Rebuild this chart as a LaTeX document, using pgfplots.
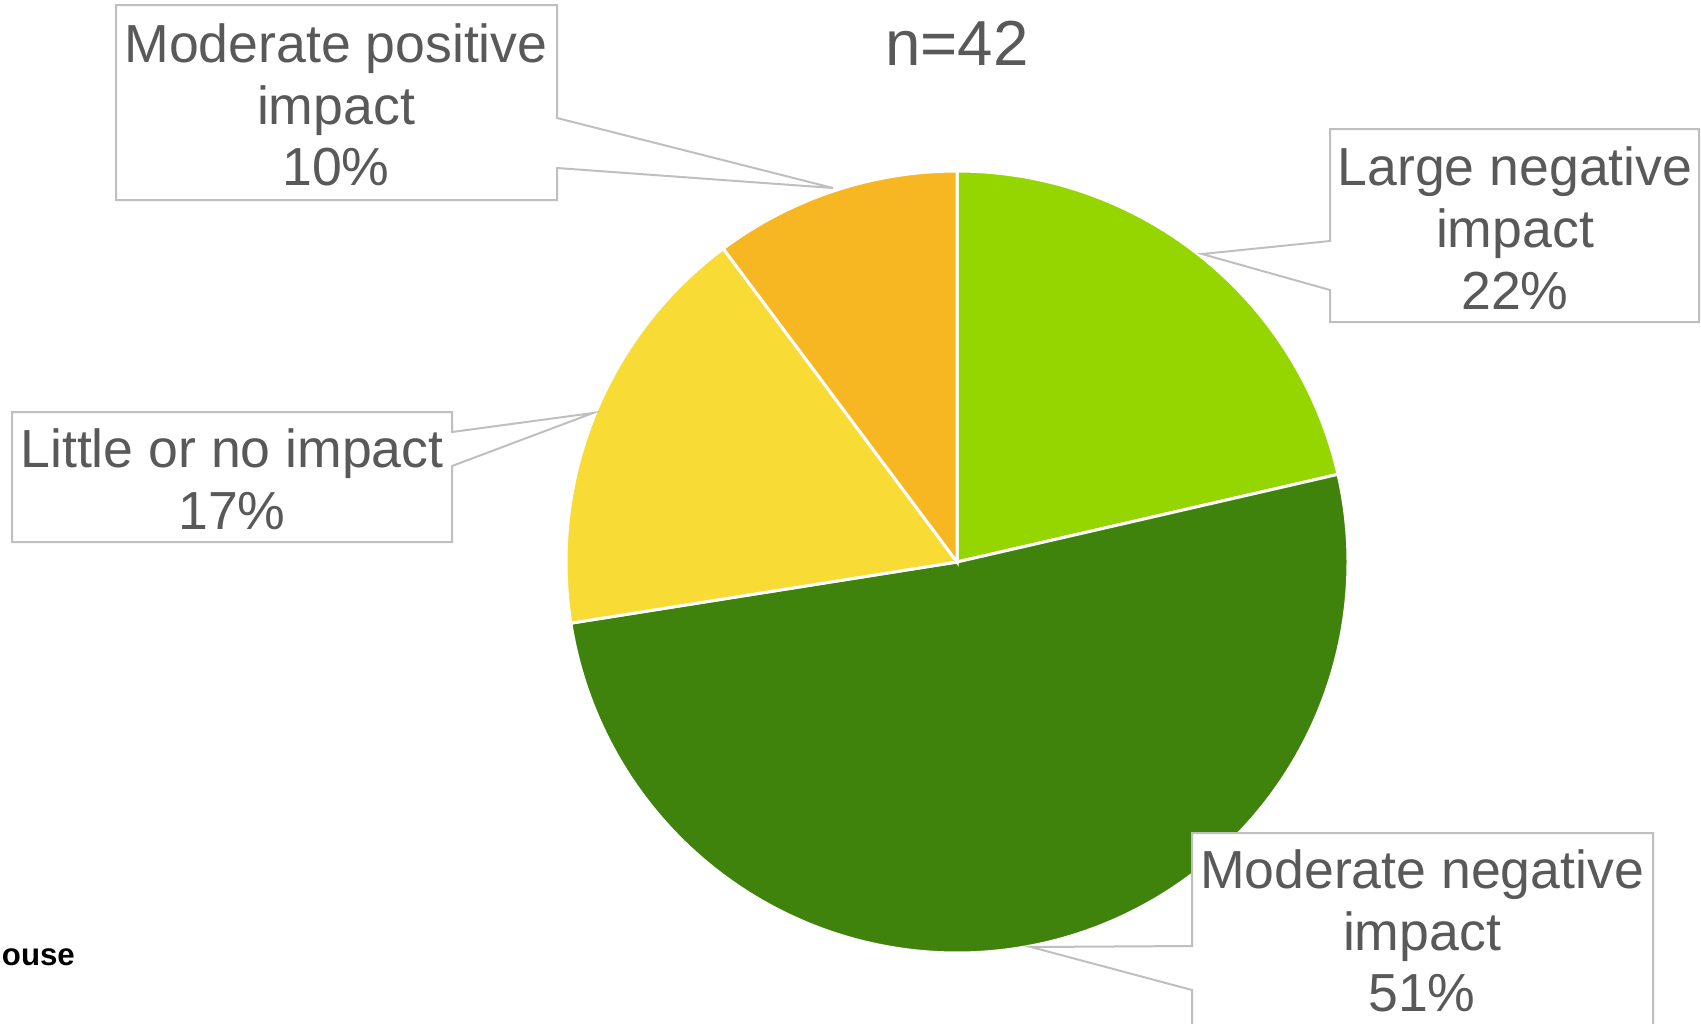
\documentclass[border=0pt]{standalone}
\usepackage{pgfplots}
\pgfplotsset{compat=1.18}
\usepackage{fontspec}
\setmainfont{Liberation Sans}
\definecolor{cLN}{HTML}{95D600}
\definecolor{cMN}{HTML}{3F830C}
\definecolor{cLI}{HTML}{F9DB35}
\definecolor{cMP}{HTML}{F7B723}
\definecolor{txt}{HTML}{595959}
\definecolor{bx}{HTML}{BFBFBF}
% slice shares (per cent), clockwise from 12 o'clock
\def\vA{21.4}% Large negative impact
\def\vB{51.1}% Moderate negative impact
\def\vC{17.3}% Little or no impact
\def\vD{10.2}% Moderate positive impact
\begin{document}%
\begin{tikzpicture}
\pgfmathsetmacro\aA{3.6*\vA}
\pgfmathsetmacro\aB{3.6*(\vA+\vB)}
\pgfmathsetmacro\aC{3.6*(\vA+\vB+\vC)}
\pgfmathsetmacro\aD{3.6*(\vA+\vB+\vC+\vD)}
\clip (0,0) rectangle (850.5pt,511.5pt);
\begin{axis}[
  at={(0,0)}, anchor=south west,
  scale only axis, width=850.5pt, height=511.5pt,
  xmin=0, xmax=1701, ymin=0, ymax=1023, y dir=reverse,
  hide axis, clip=false,
]
\addplot[fill=cLN, draw=white, line width=1.5pt, domain=0:\aA, samples=120, variable=\t]
  ({957+391*sin(t)}, {562-391*cos(t)}) -- (957,562) -- cycle;
\addplot[fill=cMN, draw=white, line width=1.5pt, domain=\aA:\aB, samples=200, variable=\t]
  ({957+391*sin(t)}, {562-391*cos(t)}) -- (957,562) -- cycle;
\addplot[fill=cLI, draw=white, line width=1.5pt, domain=\aB:\aC, samples=80, variable=\t]
  ({957+391*sin(t)}, {562-391*cos(t)}) -- (957,562) -- cycle;
\addplot[fill=cMP, draw=white, line width=1.5pt, domain=\aC:\aD, samples=60, variable=\t]
  ({957+391*sin(t)}, {562-391*cos(t)}) -- (957,562) -- cycle;

% title
\node[text=txt, font=\fontsize{31.8}{34}\selectfont] at (957,43) {n=42};

% callouts
\draw[bx, line width=1pt, fill=white] (116,5) -- (557,5) -- (557,118) -- (833,188) -- (557,168) -- (557,200) -- (116,200) -- cycle;
\node[text=txt, align=center, font=\fontsize{26.8}{30.9}\selectfont] at (336,105) {Moderate positive\\impact\\10\%};

\draw[bx, line width=1pt, fill=white] (1330,129) -- (1699,129) -- (1699,322) -- (1330,322) -- (1330,290) -- (1202,254) -- (1330,241) -- cycle;
\node[text=txt, align=center, font=\fontsize{26.8}{30.9}\selectfont] at (1515,228) {Large negative\\impact\\22\%};

\draw[bx, line width=1pt, fill=white] (12,412) -- (452,412) -- (452,432) -- (593,413) -- (452,466) -- (452,542) -- (12,542) -- cycle;
\node[text=txt, align=center, font=\fontsize{26.8}{30.9}\selectfont] at (232,479) {Little or no impact\\17\%};

\draw[overlay, bx, line width=1pt, fill=white] (1192,833) -- (1653,833) -- (1653,1060) -- (1192,1060) -- (1192,990) -- (1031,947) -- (1192,946) -- cycle;
\node[text=txt, align=center, font=\fontsize{26.8}{30.9}\selectfont] at (1422,931) {Moderate negative\\impact\\51\%};
\end{axis}
% logo fragment (partly cut off at the left edge, as in the reference)
\node[overlay, anchor=base east, inner sep=0pt, font=\fontsize{15.6}{17}\selectfont\bfseries] at (37.6pt,29pt) {house};
\end{tikzpicture}%
\end{document}
